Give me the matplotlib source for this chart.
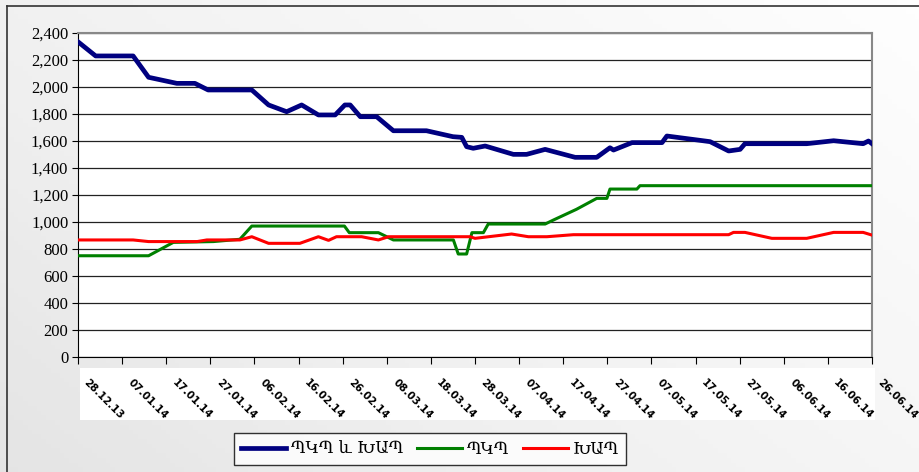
import matplotlib.pyplot as plt
from matplotlib.patches import Rectangle
from matplotlib.transforms import ScaledTranslation
import numpy as np
import datetime as dt

# day offsets from 28.12.2013 and values
days_total = [0, 4, 12.5, 16, 22.4, 26.5, 29.5, 39.4, 43.2, 47.3, 50.7, 54.5, 58.3, 60.5,
              61.7, 64, 67.7, 71.5, 79, 85, 87, 88.1, 89.6, 92.3, 98.7, 101.7, 105.9, 112.7,
              117.6, 120.6, 121.4, 125.6, 132.4, 133.5, 143.3, 147.5, 150.1, 151.2, 165.2,
              171.3, 178, 179.2, 180]
vals_total = [2335, 2230, 2230, 2072, 2027, 2027, 1978, 1978, 1867, 1817, 1867, 1793, 1793, 1867,
              1867, 1780, 1780, 1676, 1676, 1632, 1627, 1558, 1546, 1563, 1501, 1501, 1538, 1479,
              1479, 1550, 1533, 1588, 1588, 1637, 1595, 1526, 1538, 1580, 1580,
              1602, 1580, 1600, 1580]

days_pkp = [0, 16, 21.6, 30.7, 36.7, 39.4, 60.4, 61.5, 68.1, 71.5, 85.1, 86.2, 88.1, 89.3,
            91.9, 93, 105.9, 107.8, 113, 117.6, 119.9, 120.6, 126.7, 127.4, 180]
vals_pkp = [750, 750, 849, 855, 872, 970, 970, 921, 921, 867, 867, 763, 763, 921,
            921, 985, 985, 1015, 1094, 1175, 1175, 1244, 1244, 1269, 1269]

days_xap = [0, 12.5, 16, 27, 29.2, 36.7, 39.4, 43.2, 50.3, 54.5, 56.8, 58.6, 64.3, 68.1,
            70.4, 88.9, 90, 98.3, 102.1, 106.3, 112.3, 147.5, 148.6, 151.2, 157.3, 165.2,
            171.3, 178, 180]
vals_xap = [867, 867, 855, 855, 867, 867, 891, 842, 842, 891, 864, 891, 891, 867,
            891, 891, 879, 911, 891, 891, 906, 906, 923, 923, 879, 879,
            923, 923, 903]

start = dt.date(2013, 12, 28)
tick_days = list(range(0, 181, 10))
tick_labels = [(start + dt.timedelta(days=d)).strftime('%d.%m.%y') for d in tick_days]

fig = plt.figure(figsize=(9.2, 4.72), dpi=100)

# light grey gradient background, darker toward bottom-left
bg = fig.add_axes([0, 0, 1, 1], zorder=-10)
gx, gy = np.meshgrid(np.linspace(0, 1, 200), np.linspace(0, 1, 100))
bg.imshow(0.6 * gx + 0.4 * gy, cmap='Greys_r', vmin=-4.5, vmax=1.05,
          aspect='auto', origin='lower', extent=[0, 1, 0, 1])
bg.axis('off')

# outer frame lines (left and top)
fig.add_artist(plt.Line2D([7/920, 7/920], [0, 1 - 6/472], color='#333333', lw=1.2))
fig.add_artist(plt.Line2D([7/920, 1], [1 - 6/472, 1 - 6/472], color='#333333', lw=1.2))
# white band behind the date labels
fig.add_artist(Rectangle((80/920, (472-420)/472), 795/920, 52/472,
                         facecolor='white', edgecolor='none', zorder=0))

ax = fig.add_axes([78/920, 1 - 357/472, 794/920, 324/472])
ax.set_facecolor('white')
ax.plot(days_total, vals_total, color='#000080', lw=3.4, label='ՊԿՊ և ԽԱՊ', zorder=3)
ax.plot(days_pkp, vals_pkp, color='#008000', lw=2.2, label='ՊԿՊ', zorder=3)
ax.plot(days_xap, vals_xap, color='#ff0000', lw=2.2, label='ԽԱՊ', zorder=3)

ax.set_xlim(0, 180)
ax.set_ylim(0, 2400)
ax.set_yticks(range(0, 2401, 200))
ax.set_yticklabels([f'{v:,}' for v in range(0, 2401, 200)],
                   fontfamily='Liberation Serif', fontsize=12)
ax.set_xticks(tick_days)
ax.set_xticklabels([])

# rotated date labels, nudged right of each tick
lbl_trans = ax.get_xaxis_transform() + ScaledTranslation(11/100, -20/100, fig.dpi_scale_trans)
for d, lab in zip(tick_days, tick_labels):
    ax.text(d, 0, lab, transform=lbl_trans, rotation=-45, ha='left', va='top',
            rotation_mode='anchor', fontsize=7.5, fontweight='bold', clip_on=False)

ax.tick_params(axis='x', direction='out', length=5)
ax.tick_params(axis='y', direction='out', length=4, pad=3)
ax.yaxis.grid(True, color='#222222', lw=0.9)
ax.set_axisbelow(True)
for s in ['top', 'right']:
    ax.spines[s].set_color('#888888')
    ax.spines[s].set_linewidth(1.5)
ax.spines['left'].set_color('black')
ax.spines['bottom'].set_color('black')

leg = fig.legend(loc='center', bbox_to_anchor=(430/920, 1 - 449/472), ncol=3,
                 frameon=True, fancybox=False, edgecolor='black',
                 handlelength=2.7, handletextpad=0.3, columnspacing=0.8,
                 borderpad=0.45, borderaxespad=0,
                 prop={'family': 'DejaVu Serif', 'size': 12})
leg.get_frame().set_linewidth(1.0)
leg.get_frame().set_facecolor('white')

fig.savefig('out.png', dpi=100)
